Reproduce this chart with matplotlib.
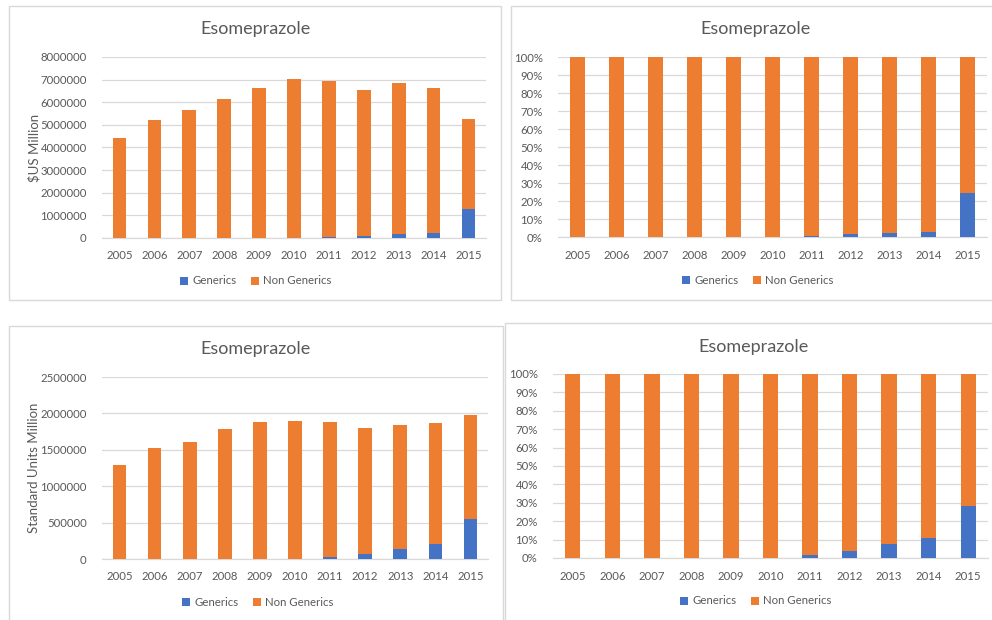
import numpy as np
import matplotlib
matplotlib.use("Agg")
import matplotlib.pyplot as plt
from matplotlib.patches import Rectangle
from matplotlib.ticker import FuncFormatter

plt.rcParams['font.family'] = ['Lato', 'DejaVu Sans']

years = ['2005', '2006', '2007', '2008', '2009', '2010',
         '2011', '2012', '2013', '2014', '2015']

# sales value ($US Million)
generics_usd = [0, 0, 0, 0, 0, 0, 35000, 100000, 170000, 200000, 1280000]
non_generics_usd = [4400000, 5220000, 5640000, 6140000, 6610000, 7010000,
                    6905000, 6430000, 6680000, 6430000, 3980000]

# volume (Standard Units Million)
generics_units = [0, 0, 0, 0, 0, 0, 26000, 65000, 142000, 201000, 553000]
non_generics_units = [1294000, 1518000, 1605000, 1792000, 1879000, 1897000,
                      1862000, 1732000, 1705000, 1664000, 1422000]

title = 'Esomeprazole'
blue = '#4472C4'
orange = '#ED7D31'
grid_col = '#D9D9D9'
text_col = '#595959'

W, H = 992, 620
fig = plt.figure(figsize=(W / 100, H / 100), dpi=100)


def px_box(l, t, r, b):
    return [l / W, 1 - b / H, (r - l) / W, (b - t) / H]


def frame(l, t, r, b):
    fig.patches.append(Rectangle((l / W, 1 - b / H), (r - l) / W, (b - t) / H,
                                 transform=fig.transFigure, fill=False,
                                 edgecolor='#D9D9D9', linewidth=1.0))


def panel(box, gen, non, ymax, ystep, pct, ylabel, title_xy, legend_xy, ylab_x):
    ax = fig.add_axes(px_box(*box))
    x = np.arange(len(years))
    gen = np.array(gen, dtype=float)
    non = np.array(non, dtype=float)
    if pct:
        tot = gen + non
        gen = gen / tot * 100
        non = non / tot * 100
    ax.bar(x, gen, width=0.39, color=blue, label='Generics', zorder=3)
    ax.bar(x, non, bottom=gen, width=0.39, color=orange, label='Non Generics', zorder=3)
    ax.set_xlim(-0.5, len(years) - 0.5)
    ax.set_ylim(0, ymax)
    ax.set_yticks(np.arange(0, ymax + ystep / 2, ystep))
    if pct:
        ax.yaxis.set_major_formatter(FuncFormatter(lambda v, p: '%d%%' % round(v)))
    else:
        ax.yaxis.set_major_formatter(FuncFormatter(lambda v, p: '%d' % v))
    ax.set_xticks(x)
    ax.set_xticklabels(years)
    ax.grid(axis='y', color=grid_col, linewidth=0.9, zorder=0)
    for s in ['top', 'right', 'left']:
        ax.spines[s].set_visible(False)
    ax.spines['bottom'].set_color(grid_col)
    ax.spines['bottom'].set_linewidth(0.9)
    ax.tick_params(axis='both', length=0, labelsize=8.2, labelcolor=text_col)
    ax.tick_params(axis='x', pad=9)
    ax.tick_params(axis='y', pad=11)
    if ylabel:
        fig.text(ylab_x / W, 1 - (box[1] + box[3]) / 2 / H, ylabel, rotation=90,
                 ha='center', va='center', fontsize=9.5, color=text_col)
    fig.text(title_xy[0] / W, 1 - title_xy[1] / H, title, ha='center', va='center',
             fontsize=13, color=text_col)
    fig.legend(*ax.get_legend_handles_labels(), loc='center',
               bbox_to_anchor=(legend_xy[0] / W, 1 - legend_xy[1] / H),
               ncol=2, frameon=False, fontsize=8.2, labelcolor=text_col,
               handlelength=0.7, handleheight=0.7, handletextpad=0.4,
               columnspacing=1.2)
    return ax


frame(8.5, 6, 500.5, 300.5)
frame(510.5, 5.5, 1000, 300)
frame(8.5, 326, 503, 640)
frame(505.5, 322.5, 1000, 640)

panel((102, 57, 486, 238), generics_usd, non_generics_usd, 8000000, 1000000,
      False, '$US Million', (255, 29), (256, 281), 34)
panel((558, 57, 987, 237), generics_usd, non_generics_usd, 100, 10,
      True, None, (756, 29), (758, 280), 0)
panel((102, 377, 488, 559), generics_units, non_generics_units, 2500000, 500000,
      False, 'Standard Units Million', (255, 349), (258, 602), 34)
panel((553, 374, 988, 558), generics_units, non_generics_units, 100, 10,
      True, None, (754, 347), (756, 601), 0)

fig.savefig('out.png', dpi=100)
